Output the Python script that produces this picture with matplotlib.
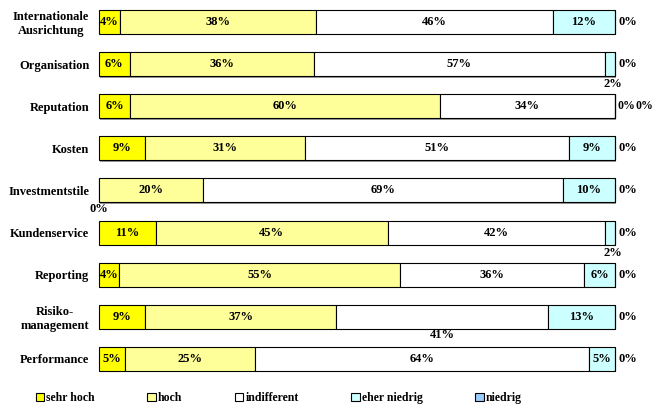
import numpy as np
import matplotlib
matplotlib.use("Agg")
import matplotlib.pyplot as plt
from matplotlib.patches import Patch
import matplotlib.patheffects as pe

# categories, top to bottom
categories = ["Internationale\nAusrichtung", "Organisation", "Reputation", "Kosten",
              "Investmentstile", "Kundenservice", "Reporting", "Risiko-\nmanagement",
              "Performance"]
series = ["sehr hoch", "hoch", "indifferent", "eher niedrig", "niedrig"]
colors = ["#FFFF00", "#FFFF99", "#FFFFFF", "#CCFFFF", "#99CCFF"]

sehr_hoch = [4, 6, 6, 9, 0, 11, 4, 9, 5]
hoch = [38, 36, 60, 31, 20, 45, 55, 37, 25]
indifferent = [46, 57, 34, 51, 69, 42, 36, 41, 64]
eher_niedrig = [12, 2, 0, 9, 10, 2, 6, 13, 5]
niedrig = [0, 0, 0, 0, 0, 0, 0, 0, 0]

values = np.array([sehr_hoch, hoch, indifferent, eher_niedrig, niedrig], dtype=float)
shares = values / values.sum(axis=0) * 100  # 100% stacked like the original

plt.rcParams['font.family'] = ['Liberation Serif', 'DejaVu Serif']
plt.rcParams['font.weight'] = 'bold'
fs = 9

fig = plt.figure(figsize=(6.53, 4.05), dpi=100)
ax = fig.add_axes([0.1516, 0.0617, 0.7902, 0.936])

y = np.arange(len(categories))
left = np.zeros(len(categories))
shadow = [pe.SimplePatchShadow(offset=(1, -1), shadow_rgbFace="#808080", alpha=0.8), pe.Normal()]


def label(x, yy, txt, ha="center", size=fs):
    ax.text(x, yy, txt, ha=ha, va="center", fontsize=size, fontweight="bold", clip_on=False)


for i, name in enumerate(series):
    bars = ax.barh(y, shares[i], left=left, height=0.57, color=colors[i],
                   edgecolor="black", linewidth=0.8, label=name)
    for b in bars:
        b.set_path_effects(shadow)
        b.set_clip_on(False)
    for j in range(len(categories)):
        val = int(values[i, j])
        txt = f"{val}%"
        xc = left[j] + shares[i, j] / 2
        yc = y[j]
        if i == 4:
            # niedrig labels sit right of the bar end
            if categories[j] == "Reputation":
                label(100.4, yc, "0%", ha="left", size=8.5)
                label(104.0, yc, txt, ha="left", size=8.5)
            else:
                label(100.6, yc, txt, ha="left")
            continue
        if i == 3 and val == 0:
            continue
        if i == 3 and val == 2:
            label(left[j] + shares[i, j] - 0.4, yc + 0.48, txt)
            continue
        if i == 0 and val == 0:
            label(0, yc + 0.44, txt)
            continue
        if categories[j].startswith("Risiko") and i == 2:
            label(xc, yc + 0.42, txt)
            continue
        label(xc, yc, txt)
    left += shares[i]

ax.set_xlim(0, 100)
ax.set_ylim(len(categories) - 0.5, -0.5)
ax.set_yticks(y)
ax.set_yticklabels(categories, fontsize=fs, fontweight="bold", multialignment="center")
ax.tick_params(axis="y", length=0, pad=7)
ax.set_xticks([])
for s in ax.spines.values():
    s.set_visible(False)

handles = [Patch(facecolor=c, edgecolor="black", linewidth=0.8) for c in colors]
fig.legend(handles, series, loc="center", bbox_to_anchor=(0.427, 0.017), ncol=5, frameon=False,
           fontsize=8.5, handlelength=0.7, handleheight=0.7, handletextpad=0.2,
           columnspacing=4.45, borderaxespad=0)

fig.savefig("out.png", dpi=100)
